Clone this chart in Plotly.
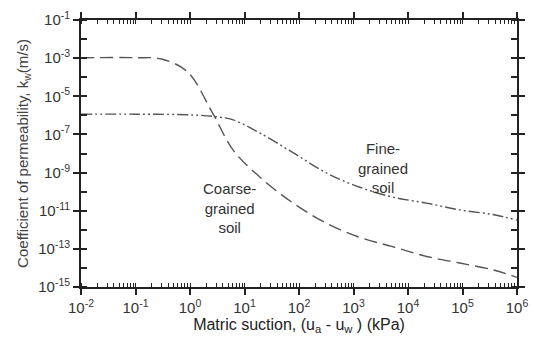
import plotly.graph_objects as go

# Coarse-grained soil
coarse_x = [1e-2, 0.1, 0.3, 0.9, 2.6, 6.2, 19, 78, 320, 1300, 5200, 22000, 89000, 360000, 1e6]
coarse_k = [1.05e-3, 1.05e-3, 9e-4, 1.9e-4, 1.3e-6, 1.5e-8, 5.9e-10, 2.5e-11, 2.2e-12,
            4e-13, 1.3e-13, 4e-14, 1.8e-14, 8e-15, 3.2e-15]
# Fine-grained soil
fine_x = [1e-2, 0.1, 1.1, 2.9, 6.2, 19, 78, 320, 1300, 5200, 22000, 89000, 360000, 1e6]
fine_k = [1.15e-6, 1.15e-6, 1.05e-6, 8.5e-7, 5.8e-7, 1.2e-7, 1.1e-8, 9.5e-10, 1.7e-10,
          5.2e-11, 2.5e-11, 1.1e-11, 6.3e-12, 3.2e-12]

x_exps = list(range(-2, 7))
y_exps = list(range(-15, 0))

line_col = "#555555"
font = "Liberation Sans, Arial, sans-serif"

x_minor = [d * 10.0**e for e in x_exps[:-1] for d in range(1, 10)] + [10.0**x_exps[-1]]
y_minor = [10.0**e for e in y_exps]

fig = go.Figure()
fig.add_trace(go.Scatter(x=coarse_x, y=coarse_k, mode="lines", line_shape="spline",
                         line=dict(color=line_col, width=1.4, dash="13px,6px"),
                         showlegend=False))
fig.add_trace(go.Scatter(x=fine_x, y=fine_k, mode="lines", line_shape="spline",
                         line=dict(color=line_col, width=1.4, dash="11px,3px,2px,3px,2px,3px"),
                         showlegend=False))

fig.add_annotation(x=3.54, y=-8.76, xref="x", yref="y", text="Fine-<br>grained<br>soil",
                   showarrow=False, font=dict(family=font, size=15, color="#333"), align="center")
fig.add_annotation(x=0.73, y=-10.86, xref="x", yref="y", text="Coarse-<br>grained<br>soil",
                   showarrow=False, font=dict(family=font, size=15, color="#333"), align="center")

fig.update_xaxes(type="log", range=[-2, 6], automargin=False,
                 tickvals=[10.0**e for e in x_exps],
                 ticktext=[f"10<sup>{e}</sup>" for e in x_exps],
                 ticks="outside", ticklen=6, tickwidth=1.5, tickcolor="#222",
                 minor=dict(ticks="inside", ticklen=4, tickcolor="#222", tickwidth=1,
                            showgrid=False, tickvals=x_minor),
                 showline=True, linecolor="#222", linewidth=1.8, mirror="ticks",
                 showgrid=False, zeroline=False,
                 tickfont=dict(family=font, size=15, color="#333"),
                 title=dict(text="Matric suction, (u<sub>a</sub> - u<sub>w</sub> ) (kPa)",
                            font=dict(family=font, size=16, color="#222"), standoff=2))
fig.update_yaxes(type="log", range=[-15, -1], automargin=False,
                 tickvals=[10.0**e for e in y_exps],
                 ticktext=[f"10<sup>{e}</sup>" if e % 2 == 1 else "" for e in y_exps],
                 ticks="outside", ticklen=6, tickwidth=1.5, tickcolor="#222",
                 minor=dict(ticks="inside", ticklen=6, tickcolor="#222", tickwidth=1.5,
                            showgrid=False, tickvals=y_minor),
                 showline=True, linecolor="#222", linewidth=1.8, mirror="ticks",
                 showgrid=False, zeroline=False,
                 tickfont=dict(family=font, size=15, color="#333"),
                 title=dict(text="Coefficient of permeability, k<sub>w</sub>(m/s)",
                            font=dict(family=font, size=15, color="#444"), standoff=6))

fig.update_layout(width=534, height=343, margin=dict(l=81, r=17, t=20, b=56),
                  plot_bgcolor="white", paper_bgcolor="white")
fig.write_html("out.html", post_script="document.body.style.margin='0';",
               config={"displayModeBar": False})
